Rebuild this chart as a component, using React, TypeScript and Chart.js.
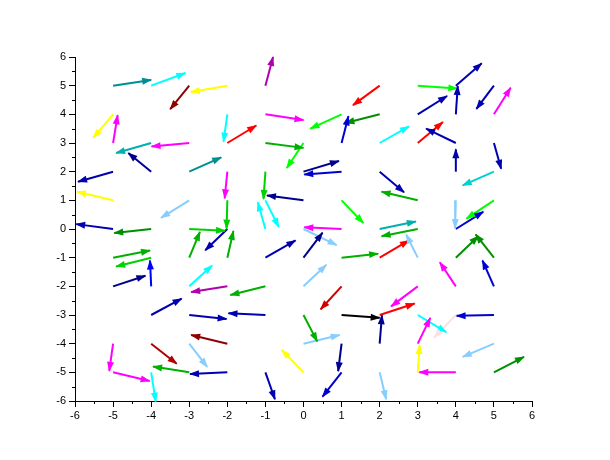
import React, { useEffect, useRef } from "react";
import { Chart, registerables } from "chart.js";

Chart.register(...registerables);

// Grid positions (arrow tails), vector components and colours, read row by row (y = 5 .. -5)
const tailX = [
  -5, -4, -3, -2, -1, 2, 3, 4, 5,
  -5, -2, -1, 1, 2, 3, 4, 5,
  -5, -4, -3, -2, -1, 0, 1, 2, 3, 4, 5,
  -5, -4, -3, -2, -1, 0, 1, 2, 4, 5,
  -5, -3, -2, -1, 0, 1, 3, 4, 5,
  -5, -4, -3, -2, -1, 0, 1, 2, 3, 4,
  -5, -4, -3, -2, -1, 0, 1, 2, 3, 4, 5,
  -5, -4, -3, -2, -1, 0, 1, 3, 4, 5,
  -4, -3, -1, 0, 1, 2, 3, 4, 5,
  -5, -4, -3, -2, 0, 1, 2, 3, 5,
  -5, -4, -3, -2, -1, 0, 1, 2, 3, 4, 5,
];
const tailY = [
  5, 5, 5, 5, 5, 5, 5, 5, 5,
  4, 4, 4, 4, 4, 4, 4, 4,
  3, 3, 3, 3, 3, 3, 3, 3, 3, 3, 3,
  2, 2, 2, 2, 2, 2, 2, 2, 2, 2,
  1, 1, 1, 1, 1, 1, 1, 1, 1,
  0, 0, 0, 0, 0, 0, 0, 0, 0, 0,
  -1, -1, -1, -1, -1, -1, -1, -1, -1, -1, -1,
  -2, -2, -2, -2, -2, -2, -2, -2, -2, -2,
  -3, -3, -3, -3, -3, -3, -3, -3, -3,
  -4, -4, -4, -4, -4, -4, -4, -4, -4,
  -5, -5, -5, -5, -5, -5, -5, -5, -5, -5, -5,
];
const vecU = [
  1.0, 0.9, -0.5, -0.96, 0.2, -0.7, 1.04, 0.68, -0.46,
  -0.52, -0.1, 1.0, -0.82, -0.9, 0.77, 0.05, 0.44,
  0.12, -0.92, -0.99, 0.76, 1.0, -0.44, 0.18, 0.77, 0.66, -0.78, 0.19,
  -0.92, -0.6, 0.84, -0.07, -0.05, 0.93, -0.98, 0.64, 0.0, -0.82,
  -0.95, -0.74, -0.02, 0.35, -0.96, 0.57, -0.95, -0.02, -0.72,
  -0.97, -0.97, 0.94, -0.58, -0.2, 0.87, -0.98, 0.95, -0.95, 0.72,
  0.97, -0.92, 0.28, 0.16, 0.79, 0.5, 0.96, 0.77, -0.3, 0.59, -0.48,
  0.85, -0.03, 0.6, -0.95, -0.92, 0.6, -0.55, -0.7, -0.42, -0.3,
  0.8, 0.98, -0.97, 0.36, 1.0, 0.92, 0.75, -0.57, -0.98,
  -0.1, 0.67, 0.47, -0.95, 0.95, -0.09, 0.06, 0.33, -0.82,
  0.96, 0.12, -0.95, -0.98, 0.25, -0.57, -0.5, 0.17, 0.05, -0.96, 0.79,
];
const vecV = [
  0.2, 0.44, -0.82, -0.22, 1.0, -0.68, -0.1, 0.78, -0.81,
  -0.82, -0.95, -0.2, -0.5, -0.3, 0.64, 0.99, 0.93,
  0.97, -0.35, -0.12, 0.61, -0.17, -0.87, 0.93, 0.58, 0.73, 0.5, -0.9,
  -0.35, 0.65, 0.5, -0.93, -0.95, 0.37, -0.1, -0.72, 0.78, -0.48,
  0.3, -0.61, -0.99, -0.93, 0.17, -0.79, 0.3, -0.97, -0.64,
  0.17, -0.14, -0.06, -0.74, 0.93, -0.56, 0.06, 0.26, -0.25, 0.6,
  0.25, -0.31, 0.9, 0.93, 0.6, 0.87, 0.14, 0.6, 0.8, 0.75, 0.81,
  0.37, 0.9, 0.73, -0.2, -0.3, 0.75, -0.8, -0.7, 0.84, 0.9,
  0.57, -0.14, 0.06, -0.92, -0.1, 0.4, -0.6, -0.79, -0.03,
  -0.95, -0.7, -0.81, 0.3, 0.3, -0.96, 0.99, 0.9, -0.46,
  -0.3, -1.02, 0.2, -0.06, -0.94, 0.78, -0.85, -0.94, 0.95, 0.0, 0.54,
];
const vecColor = [
  "#008F8F", "#00FFFF", "#8F0000", "#FFFF00", "#B000B0", "#FF0000", "#00FF00", "#0000B0", "#0000B0",
  "#FFFF00", "#00FFFF", "#FF00FF", "#00FF00", "#008F00", "#0000B0", "#0000B0", "#FF00FF",
  "#FF00FF", "#00B0B0", "#FF00FF", "#FF0000", "#00B000", "#00FF00", "#0000D1", "#00FFFF", "#FF0000", "#0000B0", "#0000B0",
  "#0000B0", "#00008F", "#008F8F", "#FF00FF", "#00D100", "#00008F", "#0000D1", "#0000B0", "#0000B0", "#00D1D1",
  "#FFFF00", "#87CEFF", "#00D100", "#00FFFF", "#00008F", "#00FF00", "#00B000", "#87CEFF", "#00FF00",
  "#0000B0", "#008F00", "#00D100", "#0000B0", "#00FFFF", "#87CEFF", "#FF00FF", "#00B0B0", "#00B000", "#0000D1",
  "#00B000", "#00D100", "#00B000", "#00B000", "#0000B0", "#00008F", "#00B000", "#FF0000", "#87CEFF", "#008F00", "#008F00",
  "#00008F", "#0000FF", "#00FFFF", "#B000B0", "#00B000", "#87CEFF", "#D10000", "#FF00FF", "#FF00FF", "#0000D1",
  "#0000B0", "#0000B0", "#0000B0", "#00B000", "#000000", "#FF0000", "#00FFFF", "#FFE0E0", "#0000D1",
  "#FF00FF", "#B00000", "#87CEFF", "#8F0000", "#87CEFF", "#00008F", "#00008F", "#FF00FF", "#87CEFF",
  "#FF00FF", "#00FFFF", "#00B000", "#0000B0", "#0000B0", "#FFFF00", "#0000D1", "#87CEFF", "#FFFF00", "#FF00FF", "#008F00",
];

const axisMin = -6;
const axisMax = 6;
const tickStep = 1;

const arrowHeadPlugin = {
  id: "arrowHeads",
  afterDatasetsDraw(chart: any) {
    const ctx = chart.ctx;
    chart.data.datasets.forEach((ds: any, i: number) => {
      const meta = chart.getDatasetMeta(i);
      if (!meta || meta.data.length < 2) return;
      const p0 = meta.data[0];
      const p1 = meta.data[1];
      const a = Math.atan2(p1.y - p0.y, p1.x - p0.x);
      const L = 9;
      const W = 3.5;
      const c = Math.cos(a);
      const s = Math.sin(a);
      ctx.save();
      ctx.fillStyle = ds.borderColor;
      ctx.beginPath();
      ctx.moveTo(p1.x + c, p1.y + s);
      ctx.lineTo(p1.x - L * c + W * s, p1.y - L * s - W * c);
      ctx.lineTo(p1.x - L * c - W * s, p1.y - L * s + W * c);
      ctx.closePath();
      ctx.fill();
      ctx.restore();
    });
  },
};

const minorTickPlugin = {
  id: "minorTicks",
  afterDraw(chart: any) {
    const ctx = chart.ctx;
    const xs = chart.scales.x;
    const ys = chart.scales.y;
    const area = chart.chartArea;
    ctx.save();
    ctx.strokeStyle = "#000";
    ctx.lineWidth = 1;
    ctx.beginPath();
    for (let v = axisMin + 0.5; v < axisMax; v += 1) {
      const px = Math.round(xs.getPixelForValue(v)) + 0.5;
      ctx.moveTo(px, area.bottom);
      ctx.lineTo(px, area.bottom + 3);
      const py = Math.round(ys.getPixelForValue(v)) + 0.5;
      ctx.moveTo(area.left, py);
      ctx.lineTo(area.left - 3, py);
    }
    ctx.stroke();
    ctx.restore();
  },
};

export default function App() {
  const ref = useRef<HTMLCanvasElement | null>(null);
  useEffect(() => {
    if (!ref.current) return;
    const datasets = tailX.map((x, i) => ({
      data: [
        { x, y: tailY[i] },
        { x: x + vecU[i], y: tailY[i] + vecV[i] },
      ],
      showLine: true,
      borderColor: vecColor[i],
      backgroundColor: vecColor[i],
      borderWidth: 2,
      pointRadius: 0,
      pointHoverRadius: 0,
      clip: false as any,
    }));
    const font = { family: "'Liberation Sans', Arial, sans-serif", size: 11 };
    const chart = new Chart(ref.current, {
      type: "scatter",
      data: { datasets },
      plugins: [arrowHeadPlugin, minorTickPlugin],
      options: {
        animation: false,
        responsive: true,
        maintainAspectRatio: false,
        layout: { padding: { top: 57, right: 78, left: 0, bottom: 0 } },
        plugins: { legend: { display: false }, tooltip: { enabled: false } },
        events: [],
        scales: {
          x: {
            type: "linear",
            min: axisMin,
            max: axisMax,
            ticks: { stepSize: tickStep, color: "#000", font, padding: 2, maxRotation: 0 },
            grid: { drawOnChartArea: false, drawTicks: true, tickLength: 6, tickColor: "#000", color: "#000" },
            border: { display: true, color: "#000", width: 1 },
            afterFit: (s: any) => { s.height = 59; },
          },
          y: {
            type: "linear",
            min: axisMin,
            max: axisMax,
            ticks: { stepSize: tickStep, color: "#000", font, padding: 3 },
            grid: { drawOnChartArea: false, drawTicks: true, tickLength: 6, tickColor: "#000", color: "#000" },
            border: { display: true, color: "#000", width: 1 },
            afterFit: (s: any) => { s.width = 75; },
          },
        },
      },
    });
    return () => chart.destroy();
  }, []);
  return (
    <div style={{ position: "absolute", left: 0, top: 0, width: 610, height: 460, background: "#fff" }}>
      <canvas ref={ref} />
    </div>
  );
}
